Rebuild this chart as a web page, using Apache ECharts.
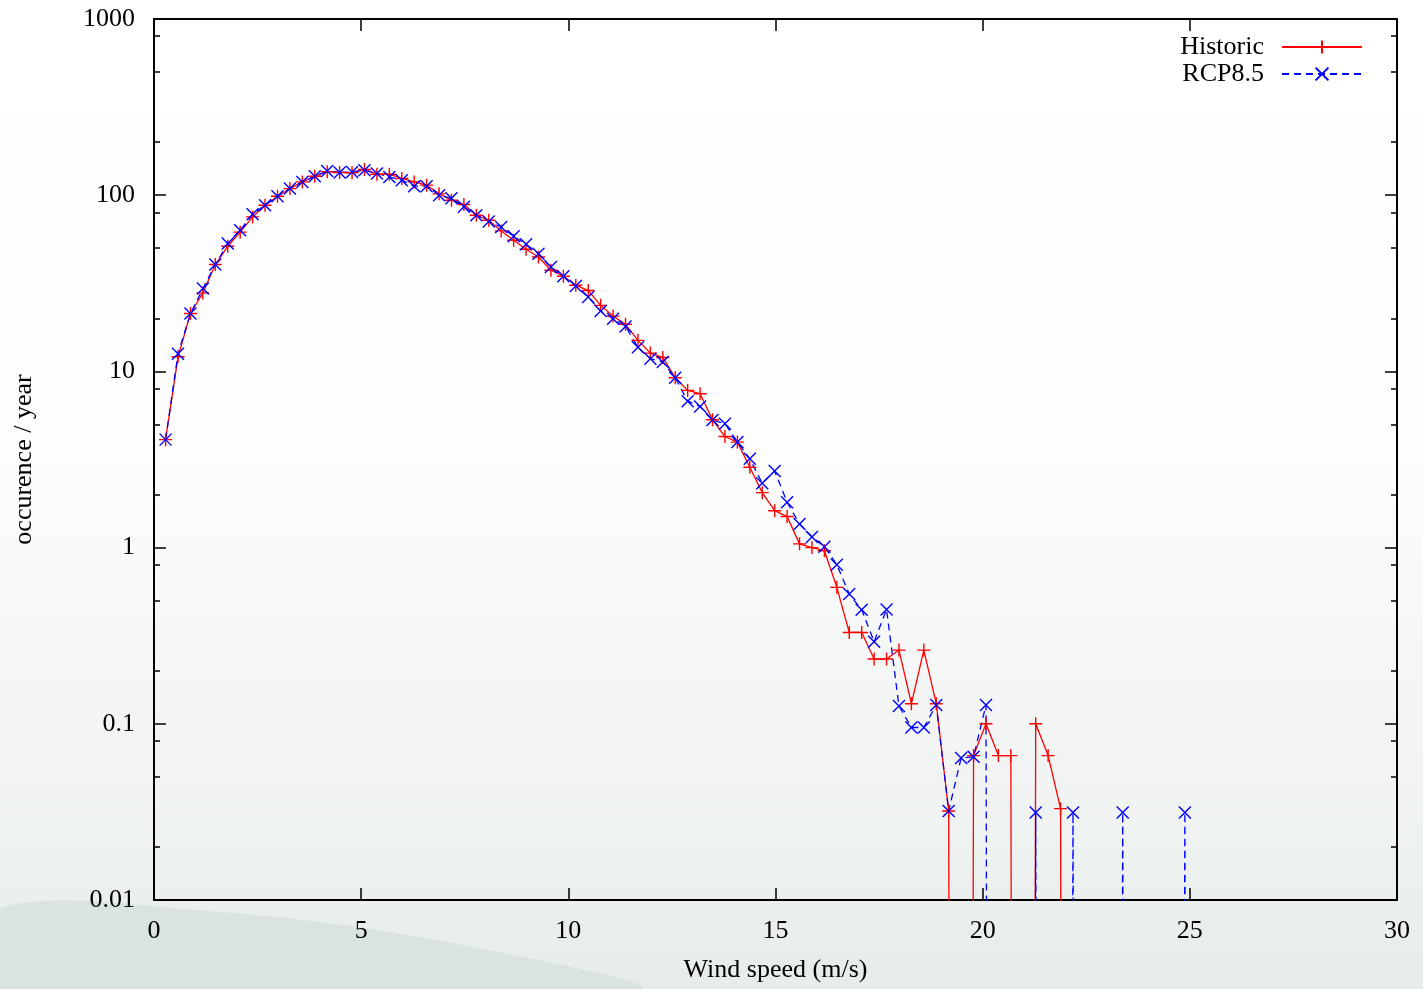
<!DOCTYPE html>
<html>
<head>
<meta charset="utf-8">
<title>Wind speed occurrence</title>
<script src="https://cdn.jsdelivr.net/npm/echarts@6/dist/echarts.min.js"></script>
<style>
  html, body { margin: 0; padding: 0; }
  #chart { width: 1423px; height: 989px; }
</style>
</head>
<body>
<div id="chart"></div>
<script>
// zero counts: far below the log axis so the lines drop straight to the bottom
const ZERO = 1e-30;

const speeds = [
  0.28, 0.58, 0.88, 1.18, 1.48, 1.78, 2.08, 2.38, 2.68, 2.98,
  3.28, 3.58, 3.88, 4.18, 4.48, 4.78, 5.08, 5.38, 5.68, 5.98,
  6.28, 6.58, 6.88, 7.18, 7.48, 7.78, 8.08, 8.38, 8.68, 8.98,
  9.28, 9.58, 9.88, 10.18, 10.48, 10.78, 11.08, 11.38, 11.68, 11.98,
  12.28, 12.58, 12.88, 13.18, 13.48, 13.78, 14.08, 14.38, 14.68, 14.98,
  15.28, 15.58, 15.88, 16.18, 16.48, 16.78, 17.08, 17.38, 17.68, 17.98,
  18.28, 18.58, 18.88, 19.18, 19.48, 19.78, 20.08, 20.38, 20.68, 20.98,
  21.28, 21.58, 21.88, 22.18, 22.48, 22.78, 23.08, 23.38, 23.68, 23.98,
  24.28, 24.58, 24.88, 25.18
];

const historic = [
  4.1, 12.1, 21.3, 27.9, 40.4, 51.3, 61.7, 75.3, 87.7, 98.7,
  109, 119, 128, 136, 134.6, 134, 140, 131.6, 131.6, 124.5,
  119, 114, 101.8, 93.7, 88.5, 77, 72.1, 62.7, 55.5, 49.3,
  44.6, 37.5, 34.7, 30.8, 28.8, 23.7, 20.6, 18.5, 15.0, 12.7,
  12.0, 9.2, 7.8, 7.47, 5.32, 4.27, 3.97, 2.86, 2.05, 1.62,
  1.50, 1.05, 1.0, 0.96, 0.595, 0.33, 0.33, 0.233, 0.233, 0.262,
  0.130, 0.262, 0.13, 0.032, ZERO, 0.066, 0.1, 0.066, 0.066, ZERO,
  0.1, 0.066, 0.033, ZERO, ZERO, ZERO, ZERO, ZERO, ZERO, ZERO,
  ZERO, ZERO, ZERO, ZERO
];

const rcp85 = [
  4.1, 12.6, 21.3, 29.5, 40.4, 53.2, 63.2, 78, 87.7, 98.7,
  109, 119, 128, 137, 134.6, 135.6, 138.7, 132.7, 127, 121.7,
  112.5, 112.5, 100, 96, 85.9, 77, 71, 66, 58.5, 52.7,
  46.6, 39.1, 34.7, 30.5, 26.4, 22, 19.9, 18, 13.7, 11.8,
  11.3, 9.2, 6.78, 6.33, 5.3, 5.05, 3.98, 3.19, 2.32, 2.72,
  1.81, 1.36, 1.15, 1.01, 0.80, 0.545, 0.444, 0.292, 0.446, 0.126,
  0.0953, 0.0953, 0.128, 0.032, 0.064, 0.065, 0.128, ZERO, ZERO, ZERO,
  0.0314, ZERO, ZERO, 0.0314, ZERO, ZERO, ZERO, 0.0314, ZERO, ZERO,
  ZERO, ZERO, 0.0314, ZERO
];

const yMinorTicks = [
  0.02, 0.05, 0.08, 0.2, 0.5, 0.8, 2, 5, 8,
  20, 50, 80, 200, 500, 800
];

const FONT = '"Liberation Serif", "DejaVu Serif", serif';
const BLACK = '#000';

const plusSymbol = 'path://M0,5L10,5M5,0L5,10';
const crossSymbol = 'path://M0,0L10,10M0,10L10,0';

let chart = echarts.init(document.getElementById('chart'));

function yAxisBase(position, showLabel, tickLen, custom) {
    let axis = {
        type: 'log',
        logBase: 10,
        min: 0.01,
        max: 1000,
        position: position,
        axisLine: { show: false, onZero: false },
        splitLine: { show: false },
        axisTick: {
            inside: true,
            length: tickLen,
            lineStyle: { color: BLACK, width: 1.5 }
        },
        axisLabel: { show: false }
    };
    if (custom) {
        axis.axisTick.customValues = custom;
    }
    if (showLabel) {
        axis.axisLabel = {
            show: true,
            margin: 19,
            color: BLACK,
            fontFamily: FONT,
            fontSize: 26,
            formatter: v => String(+v.toPrecision(3))
        };
    }
    return axis;
}

let option = {
    animation: false,
    backgroundColor: {
        type: 'linear', x: 0, y: 0, x2: 0, y2: 1,
        colorStops: [
            { offset: 0, color: '#ffffff' },
            { offset: 0.45, color: '#fdfdfd' },
            { offset: 0.85, color: '#eef2f0' },
            { offset: 1, color: '#e6ece9' }
        ]
    },
    graphic: {
        elements: [{
            type: 'polygon',
            z: -1,
            shape: {
                points: [[0, 908], [220, 912], [420, 937], [640, 989], [0, 989]],
                smooth: 0.3
            },
            style: { fill: '#d9e4e0' }
        }]
    },
    grid: {
        left: 154,
        right: 26,
        top: 19,
        bottom: 89,
        show: true,
        backgroundColor: 'transparent',
        borderColor: BLACK,
        borderWidth: 2
    },
    legend: {
        orient: 'vertical',
        right: 55,
        top: 29,
        align: 'right',
        itemWidth: 80,
        itemHeight: 16,
        itemGap: 1,
        textStyle: {
            color: BLACK,
            fontFamily: FONT,
            fontSize: 26,
            lineHeight: 26,
            padding: [0, 13, 0, 0]
        },
        data: ['Historic', 'RCP8.5']
    },
    xAxis: [
        {
            type: 'value',
            min: 0,
            max: 30,
            interval: 5,
            position: 'bottom',
            name: 'Wind speed (m/s)',
            nameLocation: 'middle',
            nameGap: 57,
            nameTextStyle: { color: BLACK, fontFamily: FONT, fontSize: 26 },
            axisLine: { show: false, onZero: false },
            splitLine: { show: false },
            axisTick: { inside: true, length: 12, lineStyle: { color: BLACK, width: 1.5 } },
            axisLabel: { margin: 18, color: BLACK, fontFamily: FONT, fontSize: 26 }
        },
        {
            type: 'value',
            min: 0,
            max: 30,
            interval: 5,
            position: 'top',
            axisLine: { show: false, onZero: false },
            splitLine: { show: false },
            axisTick: { inside: true, length: 12, lineStyle: { color: BLACK, width: 1.5 } },
            axisLabel: { show: false }
        }
    ],
    yAxis: [
        Object.assign(yAxisBase('left', true, 12), {
            name: 'occurence / year',
            nameLocation: 'middle',
            nameGap: 117,
            nameTextStyle: { color: BLACK, fontFamily: FONT, fontSize: 26 }
        }),
        yAxisBase('right', false, 12),
        yAxisBase('left', false, 6, yMinorTicks),
        yAxisBase('right', false, 6, yMinorTicks)
    ],
    series: [
        {
            name: 'Historic',
            type: 'line',
            xAxisIndex: 0,
            yAxisIndex: 0,
            clip: true,
            symbol: plusSymbol,
            symbolSize: 13,
            lineStyle: { color: '#ff0000', width: 1.3 },
            itemStyle: { color: '#ff0000', borderColor: '#ff0000', borderWidth: 1.4 },
            data: speeds.map((s, i) => [s, historic[i]])
        },
        {
            name: 'RCP8.5',
            type: 'line',
            xAxisIndex: 0,
            yAxisIndex: 0,
            clip: true,
            symbol: crossSymbol,
            symbolSize: 12,
            lineStyle: { color: '#0000ff', width: 1.3, type: [7, 5] },
            itemStyle: { color: '#0000ff', borderColor: '#0000ff', borderWidth: 1.4 },
            data: speeds.map((s, i) => [s, rcp85[i]])
        }
    ]
};

chart.setOption(option);
</script>
</body>
</html>
